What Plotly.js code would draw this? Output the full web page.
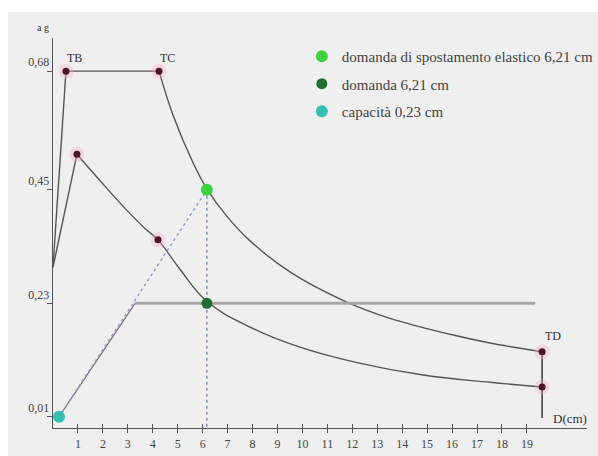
<!DOCTYPE html>
<html>
<head>
<meta charset="utf-8">
<script src="https://cdn.plot.ly/plotly-3.0.1.min.js"></script>
<style>html,body{margin:0;padding:0;background:#fff;}#chart{width:598px;height:456px;}</style>
</head>
<body>
<div id="chart"></div>
<script>
// ---- data (displacement Sd in cm, acceleration in g) ----
var elasticRiseX = [0, 0.52, 4.25];
var elasticRiseY = [0.30, 0.68, 0.68];
var elasticDecayX = [4.25, 4.81, 5.61, 6.17, 7.00, 7.90, 9.50, 11.71, 13.51, 15.92, 17.52, 19.61];
var elasticDecayY = [0.68, 0.595, 0.503, 0.452, 0.397, 0.351, 0.291, 0.234, 0.201, 0.170, 0.153, 0.136];
var inelasticRiseX = [0, 0.96];
var inelasticRiseY = [0.30, 0.519];
var inelasticDecayX = [0.96, 1.88, 2.89, 3.69, 4.21, 5.09, 6.17, 7.90, 9.90, 12.19, 14.84, 17.52, 19.61];
var inelasticDecayY = [0.519, 0.468, 0.414, 0.375, 0.353, 0.296, 0.234, 0.184, 0.145, 0.115, 0.091, 0.077, 0.068];
var tdLineX = [19.61, 19.61];
var tdLineY = [0.136, 0.008];
var capRampX = [0.24, 3.29];
var capRampY = [0.01, 0.23];
var capPlateauX = [3.29, 19.33];
var capPlateauY = [0.23, 0.23];
var radialX = [0.24, 6.17];
var radialY = [0.01, 0.45];
var demandDropX = [6.17, 6.17];
var demandDropY = [0.45, -0.0116];
var cornerX = [0.52, 4.25, 0.96, 4.21, 19.61, 19.61];
var cornerY = [0.68, 0.68, 0.519, 0.353, 0.136, 0.068];
var elasticDemandX = [6.17], elasticDemandY = [0.45];
var demandX = [6.17], demandY = [0.23];
var capacityX = [0.24], capacityY = [0.01];
var legendNames = ['domanda di spostamento elastico 6,21 cm', 'domanda 6,21 cm', 'capacità 0,23 cm'];
var xTickVals = [1,2,3,4,5,6,7,8,9,10,11,12,13,14,15,16,17,18,19];
var yTickVals = [0.01, 0.23, 0.45, 0.68];
var yTickText = ['0,01', '0,23', '0,45', '0,68'];
var pointLabels = ['TB', 'TC', 'TD', 'D(cm)'];
var pointLabelX = [0.88, 4.60, 20.05, 20.73];
var pointLabelY = [0.705, 0.705, 0.167, 0.006];

var curve = {color: '#555555', width: 1.4};
var serif = 'Liberation Serif, DejaVu Serif, serif';
var traces = [
  {x: elasticRiseX, y: elasticRiseY, mode: 'lines', line: curve, showlegend: false, hoverinfo: 'skip'},
  {x: elasticDecayX, y: elasticDecayY, mode: 'lines', line: {color: curve.color, width: curve.width, shape: 'spline', smoothing: 1}, showlegend: false, hoverinfo: 'skip'},
  {x: inelasticRiseX, y: inelasticRiseY, mode: 'lines', line: curve, showlegend: false, hoverinfo: 'skip'},
  {x: inelasticDecayX, y: inelasticDecayY, mode: 'lines', line: {color: curve.color, width: curve.width, shape: 'spline', smoothing: 1.2}, showlegend: false, hoverinfo: 'skip'},
  {x: tdLineX, y: tdLineY, mode: 'lines', line: {color: '#444', width: 1.6}, showlegend: false, hoverinfo: 'skip'},
  {x: capRampX, y: capRampY, mode: 'lines', line: {color: '#777', width: 1.2}, showlegend: false, hoverinfo: 'skip'},
  {x: capPlateauX, y: capPlateauY, mode: 'lines', line: {color: '#a8a8a8', width: 3}, showlegend: false, hoverinfo: 'skip'},
  {x: radialX, y: radialY, mode: 'lines', line: {color: '#8c9ccf', width: 1.3, dash: 'dot'}, showlegend: false, hoverinfo: 'skip'},
  {x: demandDropX, y: demandDropY, mode: 'lines', line: {color: '#6f86b8', width: 1.3, dash: 'dot'}, showlegend: false, hoverinfo: 'skip'},
  {x: cornerX, y: cornerY, mode: 'markers', marker: {color: 'rgba(255,170,200,0.35)', size: 15}, showlegend: false, hoverinfo: 'skip'},
  {x: cornerX, y: cornerY, mode: 'markers', marker: {color: '#4a1526', size: 7}, showlegend: false, hoverinfo: 'skip'},
  {x: elasticDemandX, y: elasticDemandY, mode: 'markers', name: legendNames[0], legendgroup: 'a', marker: {color: '#3fd23f', size: 12}},
  {x: demandX, y: demandY, mode: 'markers', name: legendNames[1], legendgroup: 'b', marker: {color: '#1f6e30', size: 11}},
  {x: capacityX, y: capacityY, mode: 'markers', name: legendNames[2], legendgroup: 'c', marker: {color: '#35bfae', size: 12}}
];

var annotations = pointLabels.map(function (t, i) {
  return {x: pointLabelX[i], y: pointLabelY[i], xref: 'x', yref: 'y', text: t, showarrow: false,
          font: {family: serif, size: i === 3 ? 13 : 12, color: '#333'}, xanchor: 'center', yanchor: 'middle'};
});
annotations.push({x: -0.019, y: 1.026, xref: 'paper', yref: 'paper', text: 'a g', showarrow: false,
  font: {family: serif, size: 10, color: '#333'}, xanchor: 'center', yanchor: 'middle'});

var layout = {
  width: 598, height: 456,
  margin: {l: 53, r: 11, t: 38, b: 28, autoexpand: false},
  paper_bgcolor: '#efefef',
  plot_bgcolor: 'rgba(0,0,0,0)',
  font: {family: serif, size: 12, color: '#444'},
  shapes: [
    {type: 'rect', xref: 'paper', yref: 'paper', x0: -0.2, x1: -0.0843, y0: -0.2, y1: 1.2,
     fillcolor: '#ffffff', line: {width: 0}, layer: 'below'},
    {type: 'rect', xref: 'paper', yref: 'paper', x0: -0.2, x1: 1.2, y0: 1.0667, y1: 1.2,
     fillcolor: '#ffffff', line: {width: 0}, layer: 'below'}
  ],
  xaxis: {range: [0, 21.41], showgrid: false, zeroline: false, showline: true, linecolor: '#555', linewidth: 1.4,
          tickmode: 'array', tickvals: xTickVals, ticks: 'outside', ticklen: 4, tickcolor: '#555',
          tickfont: {family: serif, size: 12, color: '#444'}, fixedrange: true, automargin: false},
  xaxis2: {range: [0, 21.41], overlaying: 'x', matches: 'x', showgrid: false, zeroline: false, showline: false,
           tickmode: 'array', tickvals: xTickVals, ticks: 'inside', ticklen: 4, tickcolor: '#555', showticklabels: false},
  yaxis: {range: [-0.0116, 0.7442], showgrid: false, zeroline: false, showline: true, linecolor: '#555', linewidth: 1.4,
          tickmode: 'array', tickvals: yTickVals, ticktext: yTickText, ticks: 'outside', ticklen: 5, tickcolor: '#555',
          ticklabelposition: 'outside top', tickfont: {family: serif, size: 12, color: '#444'}, fixedrange: true, automargin: false},
  legend: {x: 0.466, y: 0.995, xanchor: 'left', yanchor: 'top', bgcolor: 'rgba(0,0,0,0)', traceorder: 'grouped',
           tracegroupgap: 5, font: {family: serif, size: 15, color: '#444'}},
  annotations: annotations
};
// invisible trace on the overlay axis so its crossing ticks are drawn
traces.push({x: [0], y: [0], xaxis: 'x2', mode: 'markers', marker: {opacity: 0}, showlegend: false, hoverinfo: 'skip'});
Plotly.newPlot('chart', traces, layout, {displayModeBar: false, staticPlot: true});
</script>
</body>
</html>
